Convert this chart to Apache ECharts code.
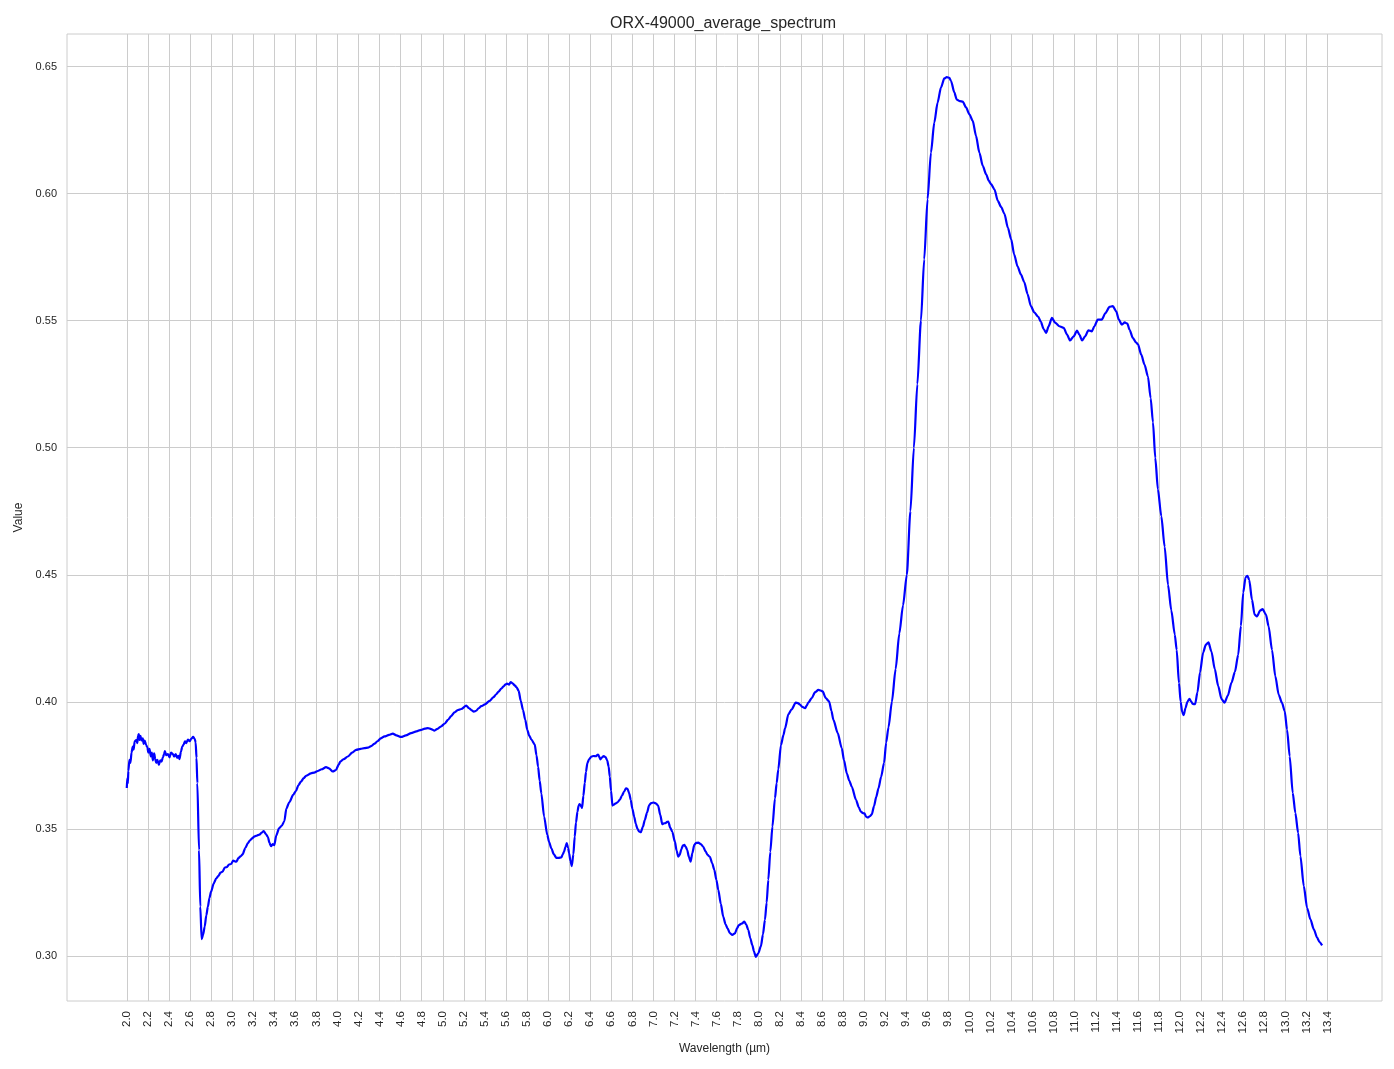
<!DOCTYPE html>
<html>
<head>
<meta charset="utf-8">
<script src="https://cdn.jsdelivr.net/npm/echarts@6/dist/echarts.min.js"></script>
<style>html,body{margin:0;padding:0;background:#fff}#c{width:1394px;height:1069px}</style>
</head>
<body>
<div id="c"></div>
<script>
const chartTitle = 'ORX-49000_average_spectrum';
const xName = 'Wavelength (µm)';
const yName = 'Value';
const xTickLabels = ['2.0','2.2','2.4','2.6','2.8','3.0','3.2','3.4','3.6','3.8','4.0','4.2','4.4','4.6','4.8','5.0','5.2','5.4','5.6','5.8','6.0','6.2','6.4','6.6','6.8','7.0','7.2','7.4','7.6','7.8','8.0','8.2','8.4','8.6','8.8','9.0','9.2','9.4','9.6','9.8','10.0','10.2','10.4','10.6','10.8','11.0','11.2','11.4','11.6','11.8','12.0','12.2','12.4','12.6','12.8','13.0','13.2','13.4'];
const yTickLabels = ['0.30','0.35','0.40','0.45','0.50','0.55','0.60','0.65'];

const wavelength = [
2.000,2.005,2.010,2.015,2.025,2.035,2.045,2.057,2.065,2.075,2.089,2.100,2.107,2.114,2.122,2.130,2.140,2.152,2.160,2.170,
2.184,2.195,2.205,2.216,2.228,2.238,2.248,2.260,2.270,2.280,2.290,2.305,2.318,2.330,2.343,2.355,2.362,2.375,2.390,2.406,
2.420,2.438,2.450,2.465,2.478,2.490,2.500,2.515,2.527,2.540,2.553,2.565,2.580,2.597,2.612,2.630,2.645,2.654,2.662,2.670,
2.686,2.698,2.711,2.725,2.740,2.755,2.770,2.785,2.800,2.825,2.850,2.870,2.890,2.910,2.930,2.950,2.970,2.990,3.010,3.040,
3.060,3.080,3.100,3.125,3.150,3.170,3.190,3.210,3.235,3.260,3.280,3.300,3.320,3.340,3.355,3.370,3.385,3.400,3.420,3.445,
3.470,3.496,3.515,3.543,3.580,3.607,3.630,3.654,3.680,3.702,3.749,3.780,3.813,3.850,3.892,3.920,3.956,3.987,4.010,4.028,
4.060,4.098,4.140,4.177,4.220,4.256,4.290,4.320,4.350,4.383,4.410,4.447,4.490,4.526,4.560,4.605,4.650,4.700,4.750,4.795,
4.830,4.859,4.890,4.922,4.950,4.985,5.020,5.049,5.080,5.112,5.145,5.176,5.223,5.250,5.271,5.295,5.318,5.340,5.366,5.400,
5.445,5.480,5.508,5.530,5.556,5.575,5.594,5.610,5.630,5.645,5.665,5.683,5.700,5.721,5.740,5.762,5.783,5.803,5.820,5.841,
5.873,5.890,5.905,5.920,5.936,5.962,5.993,6.010,6.031,6.055,6.079,6.100,6.126,6.140,6.152,6.165,6.177,6.190,6.200,6.212,
6.225,6.240,6.253,6.265,6.279,6.290,6.300,6.312,6.323,6.335,6.348,6.360,6.373,6.390,6.412,6.432,6.452,6.475,6.497,6.512,
6.529,6.545,6.561,6.575,6.586,6.598,6.611,6.625,6.643,6.660,6.681,6.700,6.722,6.740,6.754,6.770,6.785,6.800,6.817,6.833,
6.849,6.865,6.880,6.900,6.918,6.940,6.960,6.980,7.004,7.025,7.045,7.065,7.084,7.100,7.115,7.130,7.141,7.160,7.179,7.204,
7.220,7.236,7.250,7.265,7.280,7.293,7.307,7.321,7.337,7.353,7.370,7.388,7.405,7.426,7.450,7.473,7.495,7.514,7.536,7.558,
7.578,7.598,7.616,7.640,7.663,7.685,7.704,7.725,7.749,7.774,7.795,7.812,7.840,7.863,7.880,7.901,7.920,7.939,7.955,7.971,
7.995,8.021,8.040,8.059,8.075,8.091,8.110,8.130,8.154,8.170,8.186,8.211,8.235,8.250,8.282,8.313,8.351,8.372,8.392,8.415,
8.440,8.455,8.471,8.503,8.535,8.566,8.590,8.607,8.636,8.668,8.690,8.709,8.750,8.788,8.810,8.836,8.860,8.883,8.924,8.950,
8.969,8.990,9.004,9.020,9.035,9.055,9.073,9.095,9.115,9.137,9.162,9.190,9.210,9.232,9.264,9.300,9.335,9.370,9.406,9.440,
9.473,9.506,9.540,9.571,9.603,9.635,9.667,9.698,9.730,9.762,9.785,9.810,9.825,9.857,9.880,9.910,9.937,9.968,10.000,10.032,
10.063,10.095,10.127,10.159,10.185,10.206,10.238,10.270,10.302,10.333,10.365,10.397,10.425,10.457,10.489,10.521,10.552,10.584,10.616,10.654,
10.679,10.705,10.730,10.752,10.784,10.816,10.854,10.895,10.927,10.956,10.990,11.022,11.044,11.070,11.098,11.130,11.162,11.187,11.219,11.257,
11.292,11.330,11.362,11.394,11.419,11.448,11.475,11.500,11.521,11.552,11.580,11.600,11.632,11.663,11.695,11.721,11.743,11.765,11.790,11.822,
11.854,11.886,11.917,11.950,11.968,11.990,12.006,12.020,12.035,12.051,12.070,12.090,12.105,12.120,12.143,12.165,12.190,12.219,12.245,12.270,
12.298,12.330,12.362,12.394,12.422,12.454,12.489,12.521,12.552,12.578,12.600,12.622,12.640,12.657,12.683,12.708,12.730,12.762,12.784,12.816,
12.841,12.873,12.905,12.937,12.968,12.994,13.016,13.041,13.070,13.095,13.121,13.143,13.175,13.206,13.238,13.270,13.302,13.324,13.349
];
const spectrum = [
0.3661,0.3700,0.3680,0.3728,0.3772,0.3760,0.3800,0.3824,0.3812,0.3845,0.3850,0.3838,0.3866,0.3873,0.3850,0.3866,0.3848,0.3856,0.3835,0.3848,
0.3830,0.3822,0.3800,0.3815,0.3785,0.3800,0.3770,0.3797,0.3775,0.3760,0.3772,0.3752,0.3770,0.3765,0.3782,0.3795,0.3806,0.3790,0.3795,0.3782,
0.3800,0.3795,0.3785,0.3795,0.3780,0.3788,0.3775,0.3805,0.3824,0.3832,0.3845,0.3838,0.3852,0.3845,0.3855,0.3862,0.3855,0.3840,0.3780,0.3680,
0.3417,0.3194,0.3066,0.3085,0.3116,0.3160,0.3194,0.3228,0.3253,0.3285,0.3306,0.3315,0.3328,0.3332,0.3348,0.3350,0.3360,0.3362,0.3375,0.3371,
0.3385,0.3392,0.3400,0.3425,0.3444,0.3455,0.3463,0.3470,0.3474,0.3478,0.3485,0.3492,0.3480,0.3468,0.3445,0.3432,0.3440,0.3436,0.3475,0.3502,
0.3512,0.3530,0.3580,0.3605,0.3634,0.3650,0.3673,0.3686,0.3700,0.3709,0.3719,0.3722,0.3728,0.3735,0.3743,0.3738,0.3726,0.3732,0.3752,0.3765,
0.3775,0.3785,0.3800,0.3811,0.3815,0.3818,0.3820,0.3826,0.3835,0.3846,0.3856,0.3864,0.3870,0.3875,0.3868,0.3862,0.3868,0.3877,0.3884,0.3890,
0.3895,0.3897,0.3893,0.3887,0.3894,0.3904,0.3915,0.3929,0.3944,0.3959,0.3968,0.3972,0.3985,0.3975,0.3968,0.3962,0.3965,0.3975,0.3983,0.3990,
0.4004,0.4018,0.4030,0.4040,0.4052,0.4060,0.4068,0.4072,0.4068,0.4078,0.4072,0.4065,0.4058,0.4043,0.4005,0.3968,0.3930,0.3890,0.3868,0.3852,
0.3833,0.3790,0.3745,0.3690,0.3640,0.3549,0.3476,0.3448,0.3424,0.3400,0.3386,0.3386,0.3388,0.3400,0.3411,0.3430,0.3444,0.3425,0.3404,0.3375,
0.3354,0.3400,0.3470,0.3525,0.3568,0.3592,0.3598,0.3590,0.3583,0.3630,0.3680,0.3725,0.3759,0.3775,0.3785,0.3787,0.3786,0.3793,0.3774,0.3782,
0.3787,0.3783,0.3770,0.3745,0.3706,0.3650,0.3592,0.3596,0.3601,0.3605,0.3615,0.3630,0.3647,0.3660,0.3658,0.3640,0.3614,0.3580,0.3549,0.3520,
0.3500,0.3490,0.3487,0.3508,0.3535,0.3565,0.3594,0.3602,0.3604,0.3600,0.3592,0.3555,0.3519,0.3522,0.3523,0.3528,0.3529,0.3505,0.3489,0.3450,
0.3415,0.3391,0.3398,0.3420,0.3435,0.3437,0.3430,0.3417,0.3390,0.3371,0.3405,0.3437,0.3445,0.3446,0.3440,0.3430,0.3412,0.3398,0.3390,0.3365,
0.3339,0.3300,0.3260,0.3205,0.3155,0.3125,0.3109,0.3090,0.3083,0.3089,0.3110,0.3122,0.3128,0.3135,0.3125,0.3102,0.3070,0.3043,0.3018,0.2997,
0.3010,0.3039,0.3085,0.3142,0.3210,0.3300,0.3410,0.3509,0.3620,0.3680,0.3735,0.3830,0.3870,0.3896,0.3952,0.3971,0.3997,0.3995,0.3989,0.3980,
0.3975,0.3985,0.3997,0.4015,0.4038,0.4047,0.4044,0.4041,0.4015,0.4002,0.3965,0.3929,0.3877,0.3818,0.3770,0.3719,0.3690,0.3667,0.3614,0.3585,
0.3568,0.3562,0.3561,0.3548,0.3545,0.3550,0.3557,0.3590,0.3625,0.3660,0.3705,0.3760,0.3840,0.3900,0.4000,0.4130,0.4270,0.4380,0.4500,0.4750,
0.5000,0.5250,0.5500,0.5741,0.5978,0.6161,0.6280,0.6358,0.6417,0.6453,0.6458,0.6455,0.6444,0.6398,0.6370,0.6364,0.6362,0.6339,0.6312,0.6286,
0.6227,0.6161,0.6109,0.6076,0.6050,0.6037,0.6017,0.5971,0.5947,0.5920,0.5866,0.5820,0.5761,0.5714,0.5682,0.5652,0.5605,0.5557,0.5533,0.5515,
0.5495,0.5467,0.5452,0.5478,0.5511,0.5491,0.5478,0.5472,0.5445,0.5422,0.5438,0.5461,0.5445,0.5422,0.5438,0.5462,0.5458,0.5478,0.5504,0.5504,
0.5530,0.5554,0.5557,0.5537,0.5504,0.5484,0.5493,0.5488,0.5464,0.5432,0.5415,0.5408,0.5366,0.5327,0.5281,0.5195,0.5100,0.4960,0.4836,0.4731,
0.4610,0.4460,0.4360,0.4265,0.4205,0.4074,0.4000,0.3960,0.3948,0.3975,0.4000,0.4012,0.4002,0.3992,0.3991,0.4037,0.4116,0.4194,0.4225,0.4234,
0.4198,0.4129,0.4063,0.4011,0.3997,0.4025,0.4076,0.4118,0.4185,0.4299,0.4430,0.4490,0.4496,0.4480,0.4402,0.4343,0.4336,0.4360,0.4365,0.4343,
0.4297,0.4205,0.4100,0.4028,0.3996,0.3963,0.3891,0.3786,0.3642,0.3563,0.3485,0.3393,0.3275,0.3190,0.3144,0.3105,0.3072,0.3055,0.3042
];

const xTicks = xTickLabels.map(Number);
const yTicks = yTickLabels.map(Number);
const seriesData = wavelength.map((w, i) => [w, spectrum[i]]);

const FONT = 'Liberation Sans, Arial, Helvetica, sans-serif';
const chart = echarts.init(document.getElementById('c'), null, {renderer: 'canvas'});
chart.setOption({
  animation: false,
  backgroundColor: '#ffffff',
  title: {
    text: chartTitle, left: 718, top: 11, textAlign: 'center',
    textStyle: {fontFamily: FONT, fontSize: 16, fontWeight: 'normal', color: '#262626'}
  },
  grid: {left: 67, right: 12, top: 34, bottom: 68, show: true, borderColor: '#cccccc', borderWidth: 1, containLabel: false},
  xAxis: {
    type: 'value', min: 1.4325, max: 13.9175,
    name: xName, nameLocation: 'middle', nameGap: 42,
    nameTextStyle: {fontFamily: FONT, fontSize: 12, color: '#262626'},
    axisLine: {show: false},
    axisTick: {show: false, customValues: xTicks},
    axisLabel: {customValues: xTicks, rotate: 90, margin: 10, fontFamily: FONT, fontSize: 11.5, color: '#262626',
      formatter: v => v.toFixed(1)},
    splitLine: {show: true, lineStyle: {color: '#cccccc', width: 1}}
  },
  yAxis: {
    type: 'value', min: 0.2823, max: 0.6628,
    name: yName, nameLocation: 'middle', nameGap: 42,
    nameTextStyle: {fontFamily: FONT, fontSize: 12, color: '#262626'},
    axisLine: {show: false},
    axisTick: {show: false, customValues: yTicks},
    axisLabel: {customValues: yTicks, margin: 10, fontFamily: FONT, fontSize: 11, color: '#262626',
      formatter: v => v.toFixed(2)},
    splitLine: {show: true, lineStyle: {color: '#cccccc', width: 1}}
  },
  series: [{
    type: 'line', data: seriesData, showSymbol: false, symbol: 'none',
    smooth: 0.25, smoothMonotone: 'x',
    lineStyle: {color: '#0000ff', width: 2.2}
  }]
});
</script>
</body>
</html>
